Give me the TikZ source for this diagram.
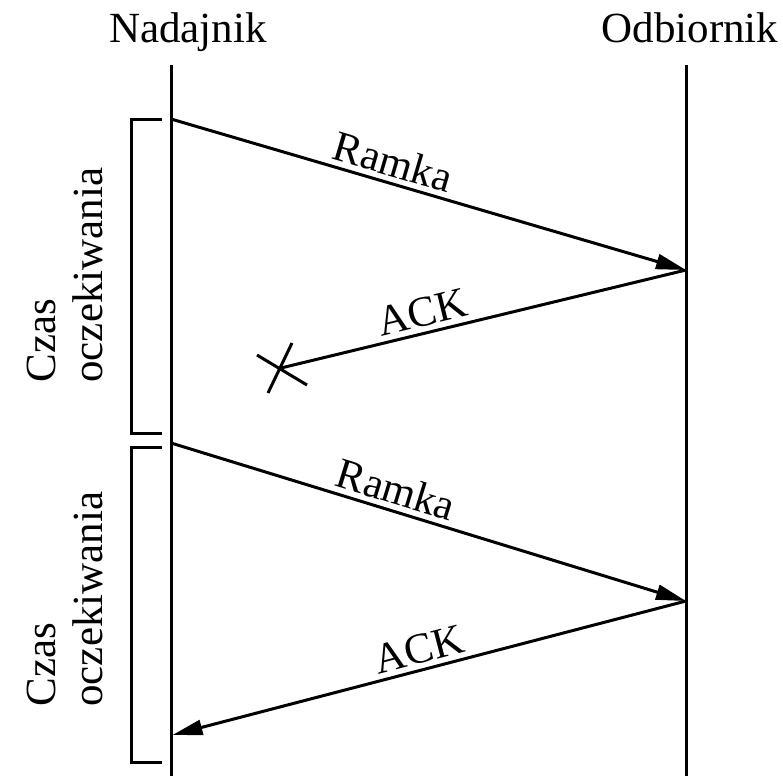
\documentclass[tikz,border=0pt]{standalone}
\usepackage{fontspec}
\setmainfont{LiberationSerif}[Extension=.ttf,UprightFont=*-Regular,BoldFont=*-Bold]
\usetikzlibrary{arrows.meta,calc}
\begin{document}
\begin{tikzpicture}[x=0.5pt,y=-0.5pt,
  every node/.style={font=\rmfamily\fontsize{21.5}{23.5}\selectfont},
  life/.style={line width=1.5pt},
  msg/.style={line width=1.5pt,-{Triangle[length=15pt,width=7.5pt]}},
  lostmsg/.style={line width=1.5pt},
  brack/.style={line width=1.5pt},
  lbl/.style={sloped,above,inner sep=2.5pt}]
\useasboundingbox (0,0) rectangle (783,776);
\node[anchor=base] (N) at (188,42) {Nadajnik};
\node[anchor=base] (O) at (690,42) {Odbiornik};
\coordinate (Nt) at (171,65);
\coordinate (Nb) at (171,776);
\coordinate (Ot) at (686,65);
\coordinate (Ob) at (686,776);
\draw[life] (Nt) -- (Nb);
\draw[life] (Ot) -- (Ob);
\coordinate (s1) at (171,119);
\coordinate (r1) at (686,270);
\coordinate (lost) at (281,368);
\coordinate (s2) at (171,443);
\coordinate (r2) at (686,601);
\coordinate (a2) at (172.5,735);
\draw[msg] (s1) -- node[lbl,pos=0.42] {Ramka} (r1);
\draw[lostmsg] (r1) -- node[lbl,pos=0.64] {ACK} (lost);
\draw[lostmsg] ($(lost)+(-24,-13)$) -- ($(lost)+(26,17)$);
\draw[lostmsg] ($(lost)+(11,-25)$) -- ($(lost)+(-13,25)$);
\draw[msg] (s2) -- node[lbl,pos=0.425] {Ramka} (r2);
\draw[msg] (r2) -- node[lbl,pos=0.51] {ACK} (a2);
\draw[brack] (162,119) -- (131,119) -- (131,433) -- (162,433);
\draw[brack] (162,447) -- (131,447) -- (131,762) -- (162,762);
\node[rotate=90,align=left,anchor=south west,inner sep=0pt] (c1) at (103,383) {Czas\\oczekiwania};
\node[rotate=90,align=left,anchor=south west,inner sep=0pt] (c2) at (103,707) {Czas\\oczekiwania};
\end{tikzpicture}
\end{document}
